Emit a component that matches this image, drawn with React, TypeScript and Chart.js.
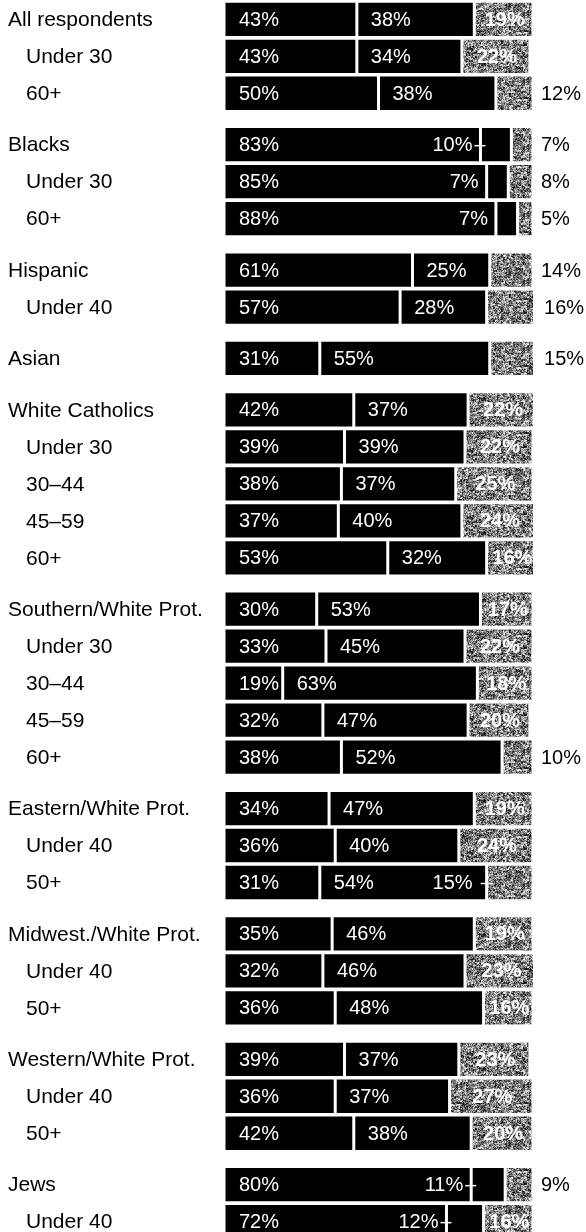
import React, { useEffect, useRef } from "react";
import { Chart, registerables } from "chart.js";

Chart.register(...registerables);

const rowLabels = [
  "All respondents", "Under 30", "60+",
  "Blacks", "Under 30", "60+",
  "Hispanic", "Under 40",
  "Asian",
  "White Catholics", "Under 30", "30–44", "45–59", "60+",
  "Southern/White Prot.", "Under 30", "30–44", "45–59", "60+",
  "Eastern/White Prot.", "Under 40", "50+",
  "Midwest./White Prot.", "Under 40", "50+",
  "Western/White Prot.", "Under 40", "50+",
  "Jews", "Under 40",
];

// 0 = group heading, 1 = indented sub-row
const rowIndent = [
  0, 1, 1,
  0, 1, 1,
  0, 1,
  0,
  0, 1, 1, 1, 1,
  0, 1, 1, 1, 1,
  0, 1, 1,
  0, 1, 1,
  0, 1, 1,
  0, 1,
];

const firstShare = [43, 43, 50, 83, 85, 88, 61, 57, 31, 42, 39, 38, 37, 53, 30, 33, 19, 32, 38, 34, 36, 31, 35, 32, 36, 39, 36, 42, 80, 72];
const secondShare = [38, 34, 38, 10, 7, 7, 25, 28, 55, 37, 39, 37, 40, 32, 53, 45, 63, 47, 52, 47, 40, 54, 46, 46, 48, 37, 37, 38, 11, 12];
const thirdShare = [19, 22, 12, 7, 8, 5, 14, 16, 15, 22, 22, 25, 24, 16, 17, 22, 18, 20, 10, 19, 24, 15, 19, 23, 16, 23, 27, 20, 9, 16];

// where the second label sits: "in" = inside own segment, "prev" = right end of first segment, "prevTick" = same with a leader tick
const secondLabelMode = [
  "in", "in", "in",
  "prevTick", "prev", "prev",
  "in", "in",
  "in",
  "in", "in", "in", "in", "in",
  "in", "in", "in", "in", "in",
  "in", "in", "in",
  "in", "in", "in",
  "in", "in", "in",
  "prevTick", "prevTick",
];

// where the third label sits: "in" = inside grey, "out" = right of bar, "prevTick" = right end of second segment with tick
const thirdLabelMode = [
  "in", "in", "out",
  "out", "out", "out",
  "out", "out",
  "out",
  "in", "in", "in", "in", "in",
  "in", "in", "in", "in", "out",
  "in", "in", "prevTick",
  "in", "in", "in",
  "in", "in", "in",
  "out", "in",
];

const GROUP_GAP = 0.39;

function rowPositions(): number[] {
  const out: number[] = [];
  let g = -1;
  rowIndent.forEach((ind, i) => {
    if (ind === 0) g += 1;
    out.push(i + g * GROUP_GAP);
  });
  return out;
}

function makeNoise(): CanvasPattern | string {
  const size = 67;
  const c = document.createElement("canvas");
  c.width = size;
  c.height = size;
  const g = c.getContext("2d");
  if (!g) return "#808080";
  const img = g.createImageData(size, size);
  let s = 987654321;
  const rnd = () => {
    s = (s * 1103515245 + 12345) & 0x7fffffff;
    return s / 0x7fffffff;
  };
  const coarse: number[] = [];
  for (let i = 0; i < 34 * 34; i++) coarse.push(rnd());
  for (let yy = 0; yy < size; yy++) {
    for (let xx = 0; xx < size; xx++) {
      const i = yy * size + xx;
      const cv = coarse[(yy >> 1) * 34 + (xx >> 1)];
      const r = 0.55 * rnd() + 0.45 * cv;
      const v = Math.max(0, Math.min(255, Math.round(-15 + r * 285)));
      img.data[i * 4] = v;
      img.data[i * 4 + 1] = v;
      img.data[i * 4 + 2] = v;
      img.data[i * 4 + 3] = 255;
    }
  }
  g.putImageData(img, 0, 0);
  return g.createPattern(c, "repeat") || "#808080";
}

export default function App() {
  const ref = useRef<HTMLCanvasElement | null>(null);

  useEffect(() => {
    if (!ref.current) return;
    const pos = rowPositions();
    const noise = makeNoise();

    const range1 = firstShare.map((a) => [0, a]);
    const range2 = firstShare.map((a, i) => [a, a + secondShare[i]]);
    const range3 = firstShare.map((a, i) => [a + secondShare[i], a + secondShare[i] + thirdShare[i]]);

    const common = {
      borderColor: "#ffffff",
      borderWidth: { left: 1.5, right: 1.5, top: 1.6, bottom: 1.6 },
      borderSkipped: false as const,
      barThickness: 36.5,
      inflateAmount: 0,
    };

    const labelPlugin = {
      id: "rowLabels",
      afterDatasetsDraw(chart: any) {
        const ctx: CanvasRenderingContext2D = chart.ctx;
        const xs = chart.scales.x;
        const ys = chart.scales.y;
        ctx.save();
        ctx.textBaseline = "middle";
        rowLabels.forEach((lab, i) => {
          const y = ys.getPixelForValue(pos[i]);
          ctx.fillStyle = "#000";
          ctx.textAlign = "left";
          ctx.font = '21px "Liberation Sans", Arial, sans-serif';
          ctx.fillText(lab, rowIndent[i] ? 26 : 8, y + 1);

          const a = firstShare[i];
          const b = secondShare[i];
          const c = thirdShare[i];
          const x0 = xs.getPixelForValue(0);
          const x1 = xs.getPixelForValue(a);
          const x2 = xs.getPixelForValue(a + b);
          const x3 = xs.getPixelForValue(a + b + c);

          ctx.font = '20px "Liberation Sans", Arial, sans-serif';
          ctx.fillStyle = "#fff";
          ctx.textAlign = "left";
          ctx.fillText(a + "%", x0 + 15, y + 1);

          const m2 = secondLabelMode[i];
          if (m2 === "in") {
            ctx.fillText(b + "%", x1 + 14, y + 1);
          } else {
            ctx.textAlign = "right";
            ctx.fillText(b + "%", x1 - 8, y + 1);
            if (m2 === "prevTick") {
              ctx.strokeStyle = "#fff";
              ctx.lineWidth = 1.5;
              ctx.beginPath();
              ctx.moveTo(x1 - 6, y + 1);
              ctx.lineTo(x1 + 5, y + 1);
              ctx.stroke();
            }
          }

          const m3 = thirdLabelMode[i];
          if (m3 === "in") {
            ctx.textAlign = "center";
            ctx.font = 'bold 20px "Liberation Sans", Arial, sans-serif';
            ctx.fillStyle = "#fff";
            ctx.fillText(c + "%", (x2 + x3) / 2 + 1, y + 1);
          } else if (m3 === "out") {
            ctx.textAlign = "left";
            ctx.fillStyle = "#000";
            ctx.fillText(c + "%", x3 + 8, y + 1);
          } else {
            ctx.textAlign = "right";
            ctx.fillStyle = "#fff";
            ctx.fillText(c + "%", x2 - 14, y + 1);
            ctx.strokeStyle = "#fff";
            ctx.lineWidth = 1.5;
            ctx.beginPath();
            ctx.moveTo(x2 - 6, y + 1);
            ctx.lineTo(x2 + 6, y + 1);
            ctx.stroke();
          }
        });
        ctx.restore();
      },
    };

    const chart = new Chart(ref.current, {
      type: "bar",
      data: {
        datasets: [
          {
            label: "first",
            data: rowLabels.map((_, i) => ({ y: pos[i], x: range1[i] })) as any,
            backgroundColor: "#000000",
            ...common,
          },
          {
            label: "second",
            data: rowLabels.map((_, i) => ({ y: pos[i], x: range2[i] })) as any,
            backgroundColor: "#000000",
            ...common,
          },
          {
            label: "third",
            data: rowLabels.map((_, i) => ({ y: pos[i], x: range3[i] })) as any,
            backgroundColor: noise as any,
            ...common,
          },
        ],
      },
      options: {
        indexAxis: "y",
        animation: false,
        responsive: false,
        maintainAspectRatio: false,
        layout: { padding: { left: 224, right: 53, top: 0, bottom: 0 } },
        scales: {
          x: { type: "linear", min: 0, max: 100, display: false, stacked: false, offset: false },
          y: { type: "linear", min: -0.522, max: 32.79, reverse: true, display: false, stacked: true, offset: false },
        },
        plugins: {
          legend: { display: false },
          tooltip: { enabled: false },
        },
      } as any,
      plugins: [labelPlugin],
    });
    return () => chart.destroy();
  }, []);

  return (
    <div style={{ position: "absolute", left: 0, top: 0, width: 586, height: 1232, background: "#fff" }}>
      <canvas ref={ref} width={586} height={1232} style={{ display: "block", width: 586, height: 1232 }} />
    </div>
  );
}
